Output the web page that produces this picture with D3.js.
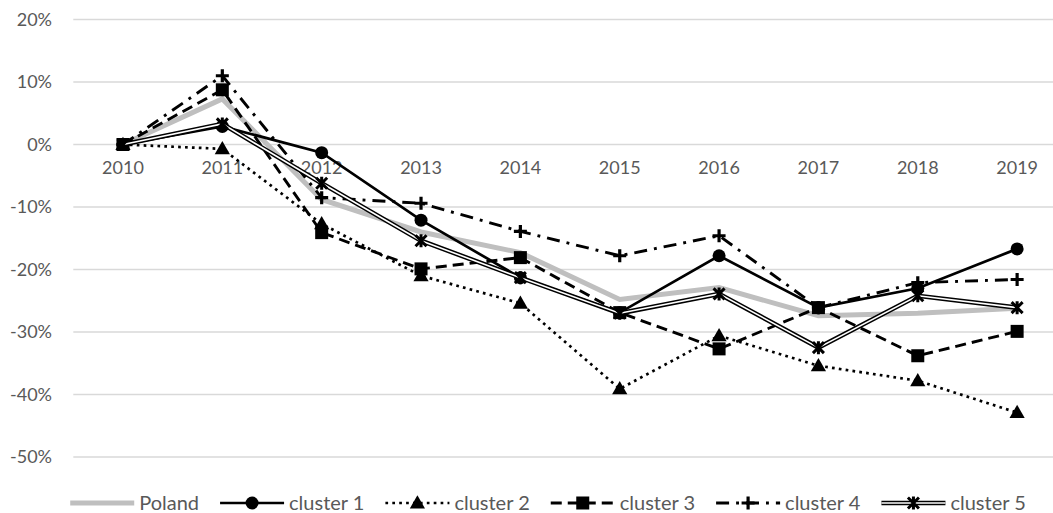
<!DOCTYPE html>
<html>
<head>
<meta charset="utf-8">
<script src="https://cdn.jsdelivr.net/npm/d3@7"></script>
<style>
  body { margin: 0; background: #fff; }
  svg { display: block; font-family: Lato, "Open Sans", sans-serif; }
</style>
</head>
<body>
<svg id="chart" width="1053" height="513"></svg>
<script>
// values in percent
var years = ["2010","2011","2012","2013","2014","2015","2016","2017","2018","2019"];
var poland   = [0, 7.3, -8.8, -14.0, -17.3, -24.8, -22.9, -27.4, -27.0, -26.2];
var cluster1 = [0, 2.9, -1.3, -12.1, -21.3, -26.9, -17.8, -26.1, -23.0, -16.7];
var cluster2 = [0, -0.7, -12.7, -21.0, -25.4, -39.1, -30.6, -35.4, -37.8, -42.9];
var cluster3 = [0, 8.75, -14.1, -19.9, -18.1, -26.9, -32.7, -26.1, -33.8, -29.9];
var cluster4 = [0, 11.0, -8.5, -9.4, -13.9, -17.8, -14.6, -26.1, -22.1, -21.6];
var cluster5 = [0, 3.3, -6.2, -15.4, -21.3, -27.0, -23.9, -32.5, -24.2, -26.1];
var yTicks = [20, 10, 0, -10, -20, -30, -40, -50];
var seriesNames = ["Poland", "cluster 1", "cluster 2", "cluster 3", "cluster 4", "cluster 5"];

var series = [
  {name: seriesNames[0], values: poland,   style: "grey"},
  {name: seriesNames[1], values: cluster1, style: "solid",   marker: "circle"},
  {name: seriesNames[2], values: cluster2, style: "dot",     marker: "triangle"},
  {name: seriesNames[3], values: cluster3, style: "dash",    marker: "square"},
  {name: seriesNames[4], values: cluster4, style: "dashdot", marker: "plus"},
  {name: seriesNames[5], values: cluster5, style: "double",  marker: "star"}
];

var svg = d3.select("#chart");
var left = 73.3, step = 99.35;

var x = d3.scaleBand().domain(years).range([left, left + step * years.length]).paddingInner(0).paddingOuter(0);
var y = d3.scaleLinear().domain([-50, 20]).range([457, 19.5]);
function cx(d, i) { return x(years[i]) + x.bandwidth() / 2; }

// gridlines
svg.append("g").selectAll("line")
  .data(yTicks).enter().append("line")
  .attr("x1", left).attr("x2", left + step * years.length)
  .attr("y1", function(d) { return y(d); }).attr("y2", function(d) { return y(d); })
  .attr("stroke", "#d9d9d9").attr("stroke-width", 1.3);

// y axis labels
svg.append("g").selectAll("text")
  .data(yTicks).enter().append("text")
  .attr("x", 52).attr("y", function(d) { return y(d); })
  .attr("dy", "0.35em").attr("text-anchor", "end")
  .attr("fill", "#595959").attr("font-size", 18)
  .text(function(d) { return d + "%"; });

// x axis labels sit under the 0% line
var xAxis = svg.append("g").attr("transform", "translate(0," + y(0) + ")")
  .call(d3.axisBottom(x).tickSize(0).tickPadding(17));
xAxis.select(".domain").remove();
xAxis.selectAll("text").attr("fill", "#595959").attr("font-size", 18).attr("font-family", "Lato, sans-serif");

var line = d3.line().x(cx).y(function(d) { return y(d); });

function strokeStyle(sel, style) {
  if (style === "grey") {
    sel.attr("stroke", "#bfbfbf").attr("stroke-width", 5);
  } else if (style === "solid") {
    sel.attr("stroke", "#000").attr("stroke-width", 2.7);
  } else if (style === "dot") {
    sel.attr("stroke", "#000").attr("stroke-width", 2.7).attr("stroke-dasharray", "2.7,4.2");
  } else if (style === "dash") {
    sel.attr("stroke", "#000").attr("stroke-width", 2.9).attr("stroke-dasharray", "11,6");
  } else if (style === "dashdot") {
    sel.attr("stroke", "#000").attr("stroke-width", 2.9).attr("stroke-dasharray", "13,7,2.9,7");
  }
}

function drawLine(g, s, pathFn) {
  if (s.style === "double") {
    g.append("path").attr("d", pathFn).attr("fill", "none").attr("stroke", "#000").attr("stroke-width", 4.6);
    g.append("path").attr("d", pathFn).attr("fill", "none").attr("stroke", "#fff").attr("stroke-width", 1.6);
  } else {
    g.append("path").attr("d", pathFn).attr("fill", "none").call(strokeStyle, s.style);
  }
}

function drawMarker(g, type, px, py) {
  if (type === "circle") {
    g.append("circle").attr("cx", px).attr("cy", py).attr("r", 6.5).attr("fill", "#000");
  } else if (type === "triangle") {
    g.append("path").attr("d", d3.symbol(d3.symbolTriangle, 100)())
      .attr("transform", "translate(" + px + "," + (py + 1) + ")").attr("fill", "#000");
  } else if (type === "square") {
    g.append("rect").attr("x", px - 6.5).attr("y", py - 6.5).attr("width", 13).attr("height", 13).attr("fill", "#000");
  } else if (type === "plus") {
    g.append("path").attr("d", "M" + (px - 6.5) + "," + py + "H" + (px + 6.5) + "M" + px + "," + (py - 6.5) + "V" + (py + 6.5))
      .attr("stroke", "#000").attr("stroke-width", 3.2).attr("fill", "none");
  } else if (type === "star") {
    g.append("path").attr("d", "M" + (px - 5.5) + "," + (py - 5.5) + "L" + (px + 5.5) + "," + (py + 5.5) +
        "M" + (px + 5.5) + "," + (py - 5.5) + "L" + (px - 5.5) + "," + (py + 5.5) +
        "M" + px + "," + (py - 6.5) + "V" + (py + 6.5))
      .attr("stroke", "#000").attr("stroke-width", 3).attr("fill", "none");
  }
}

// series
series.forEach(function(s) {
  var g = svg.append("g").attr("class", "series");
  drawLine(g, s, line(s.values));
  if (s.marker) {
    s.values.forEach(function(v, i) { drawMarker(g, s.marker, cx(v, i), y(v)); });
  }
});

// legend
var legend = svg.append("g");
var legY = 503, lineLen = 64, items = [];
series.forEach(function(s) {
  var g = legend.append("g");
  var t = g.append("text").attr("x", lineLen + 5).attr("y", legY).attr("dy", "0.35em")
    .attr("fill", "#595959").attr("font-size", 20).text(s.name);
  items.push({g: g, s: s, w: lineLen + 5 + t.node().getComputedTextLength()});
});
var gap = 21;
var total = d3.sum(items, function(d) { return d.w; }) + gap * (items.length - 1);
var pos = 548 - total / 2;
items.forEach(function(it) {
  it.g.attr("transform", "translate(" + pos + ",0)");
  drawLine(it.g, it.s, "M0," + legY + "H" + lineLen);
  if (it.s.marker) drawMarker(it.g, it.s.marker, lineLen / 2, legY);
  pos += it.w + gap;
});
</script>
</body>
</html>
